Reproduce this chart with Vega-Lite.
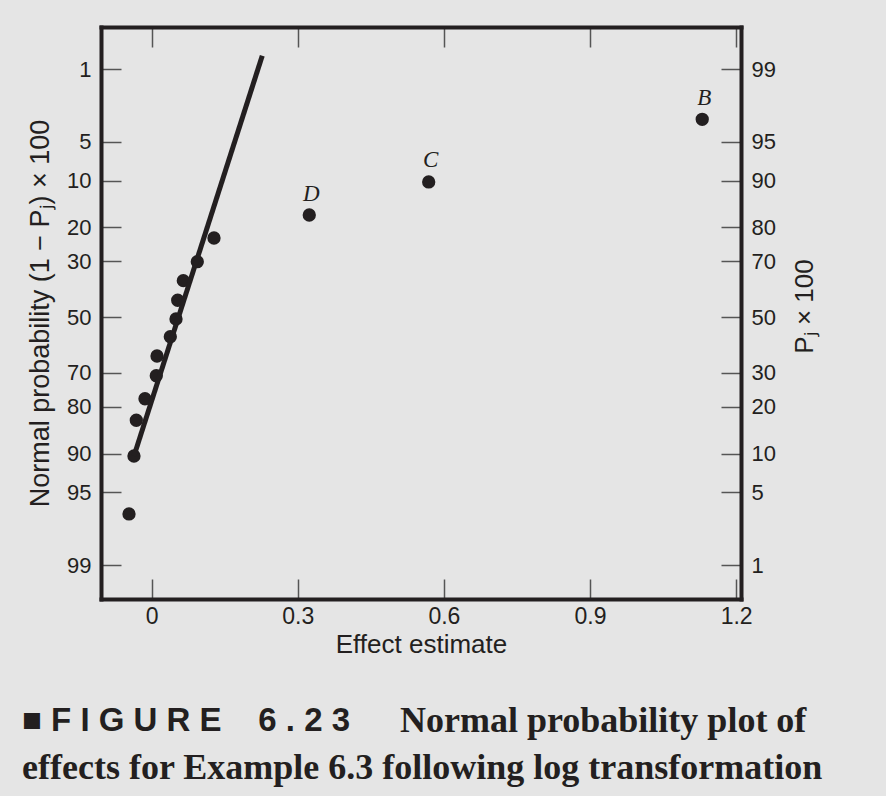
{
  "$schema": "https://vega.github.io/schema/vega-lite/v6.json",
  "width": 640,
  "height": 572,
  "autosize": {"type": "none"},
  "padding": {"left": 101, "top": 27, "right": 145, "bottom": 197},
  "background": "#e5e5e5",
  "view": {"stroke": null},
  "config": {
    "font": "Liberation Sans",
    "axis": {
      "grid": false,
      "domainColor": "#231f20",
      "domainWidth": 4,
      "domainCap": "square",
      "tickColor": "#555555",
      "tickWidth": 1.5,
      "tickSize": -20,
      "labelColor": "#231f20",
      "labelFont": "Liberation Sans",
      "labelFontSize": 22,
      "titleFont": "Liberation Sans",
      "titleFontSize": 26,
      "titleFontWeight": "normal",
      "titleColor": "#231f20",
      "labelFlush": false,
      "labelOverlap": false,
      "labelBound": false
    }
  },
  "title": {
    "text": "■\u00a0F\u00a0I\u00a0G\u00a0U\u00a0R\u00a0E\u00a0\u00a0\u00a0\u00a06\u00a0.\u00a02\u00a03",
    "subtitle": [
      "\u200b\u00a0\u00a0\u00a0\u00a0\u00a0\u00a0\u00a0\u00a0\u00a0\u00a0\u00a0\u00a0\u00a0\u00a0\u00a0\u00a0\u00a0\u00a0\u00a0\u00a0\u00a0\u00a0\u00a0\u00a0\u00a0\u00a0\u00a0\u00a0\u00a0\u00a0\u00a0\u00a0\u00a0\u00a0\u00a0\u00a0\u00a0\u00a0\u00a0\u00a0\u00a0\u00a0Normal probability plot of",
      "effects for Example 6.3 following log transformation"
    ],
    "orient": "bottom",
    "anchor": "start",
    "frame": "group",
    "offset": 48,
    "dx": -79,
    "font": "Liberation Sans",
    "fontSize": 33,
    "fontWeight": "bold",
    "color": "#231f20",
    "subtitleFont": "Liberation Serif",
    "subtitleFontSize": 36,
    "subtitleFontWeight": "bold",
    "subtitleColor": "#231f20",
    "subtitleLineHeight": 47,
    "subtitlePadding": -34
  },
  "data": {
    "values": [
      {"effect": -0.0465, "normal_score": -1.847, "label": ""},
      {"effect": -0.0363, "normal_score": -1.303, "label": ""},
      {"effect": -0.0315, "normal_score": -0.968, "label": ""},
      {"effect": -0.0137, "normal_score": -0.766, "label": ""},
      {"effect": 0.0095, "normal_score": -0.55, "label": ""},
      {"effect": 0.011, "normal_score": -0.365, "label": ""},
      {"effect": 0.0383, "normal_score": -0.184, "label": ""},
      {"effect": 0.05, "normal_score": -0.018, "label": ""},
      {"effect": 0.0535, "normal_score": 0.158, "label": ""},
      {"effect": 0.065, "normal_score": 0.342, "label": ""},
      {"effect": 0.0937, "normal_score": 0.52, "label": ""},
      {"effect": 0.128, "normal_score": 0.742, "label": ""},
      {"effect": 0.3236, "normal_score": 0.958, "label": "D"},
      {"effect": 0.5688, "normal_score": 1.268, "label": "C"},
      {"effect": 1.1304, "normal_score": 1.856, "label": "B"}
    ]
  },
  "layer": [
    {
      "mark": {"type": "circle", "size": 177, "color": "#231f20", "opacity": 1},
      "encoding": {
        "x": {
          "field": "effect",
          "type": "quantitative",
          "scale": {"domain": [-0.104, 1.21], "nice": false, "zero": false},
          "axis": {
            "orient": "bottom",
            "values": [0, 0.3, 0.6, 0.9, 1.2],
            "labelExpr": "datum.value == 0 ? '0' : format(datum.value, '.1f')",
            "labelPadding": 26,
            "labelFontSize": 23,
            "title": "Effect estimate",
            "titlePadding": 3
          }
        },
        "y": {
          "field": "normal_score",
          "type": "quantitative",
          "scale": {"domain": [-2.645, 2.722], "nice": false, "zero": false},
          "axis": {
            "orient": "left",
            "values": [-2.3263, -1.6449, -1.2816, -0.8416, -0.5244, 0, 0.5244, 0.8416, 1.2816, 1.6449, 2.3263],
            "labelExpr": "format(100 - 100 * cumulativeNormal(datum.value), '.0f')",
            "labelPadding": 30,
            "title": "Normal probability (1 − Pⱼ) × 100",
            "titleFontSize": 27,
            "titlePadding": 12
          }
        }
      }
    },
    {
      "data": {
        "values": [
          {"effect": -0.0363, "normal_score": -1.303},
          {"effect": 0.2271, "normal_score": 2.453}
        ]
      },
      "mark": {"type": "line", "color": "#231f20", "strokeWidth": 5, "strokeCap": "butt"},
      "encoding": {
        "x": {
          "field": "effect",
          "type": "quantitative",
          "scale": {"domain": [-0.104, 1.21], "nice": false, "zero": false},
          "axis": {
            "orient": "top",
            "values": [0, 0.3, 0.6, 0.9, 1.2],
            "labels": false,
            "title": null
          }
        },
        "y": {
          "field": "normal_score",
          "type": "quantitative",
          "scale": {"domain": [-2.645, 2.722], "nice": false, "zero": false},
          "axis": {
            "orient": "right",
            "values": [-2.3263, -1.6449, -1.2816, -0.8416, -0.5244, 0, 0.5244, 0.8416, 1.2816, 1.6449, 2.3263],
            "labelExpr": "format(100 * cumulativeNormal(datum.value), '.0f')",
            "labelPadding": 30,
            "title": "Pⱼ × 100",
            "titleAngle": 270,
            "titleBaseline": "top",
            "titleFontSize": 26,
            "titlePadding": 16,
            "titleY": 279
          }
        }
      }
    },
    {
      "transform": [{"filter": "datum.label != ''"}],
      "mark": {
        "type": "text",
        "dx": 2,
        "dy": -21.5,
        "baseline": "middle",
        "font": "Liberation Serif",
        "fontStyle": "italic",
        "fontSize": 23,
        "color": "#231f20"
      },
      "encoding": {
        "x": {"field": "effect", "type": "quantitative", "axis": null},
        "y": {"field": "normal_score", "type": "quantitative", "axis": null},
        "text": {"field": "label"}
      }
    }
  ],
  "resolve": {
    "scale": {"x": "shared", "y": "shared"},
    "axis": {"x": "independent", "y": "independent"}
  }
}
